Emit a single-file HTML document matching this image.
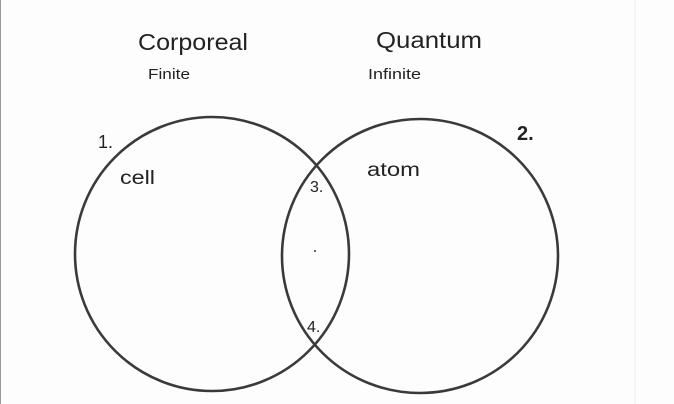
<!DOCTYPE html>
<html><head><style>
body{margin:0;background:#fff;}
svg{display:block}
text{font-family:"Liberation Sans",sans-serif;fill:#222}
</style></head><body>
<svg width="674" height="404" viewBox="0 0 674 404">
<rect width="674" height="404" fill="#fdfdfd"/>
<line x1="0.5" y1="0" x2="0.5" y2="404" stroke="#999" stroke-width="1"/>
<line x1="635" y1="0" x2="635" y2="404" stroke="#ececec" stroke-width="1"/>
<ellipse cx="212" cy="254" rx="137" ry="137" fill="none" stroke="#3a3a3a" stroke-width="2.6"/>
<ellipse cx="420" cy="256" rx="138" ry="137" fill="none" stroke="#3a3a3a" stroke-width="2.6"/>
<text x="138" y="50" font-size="23" textLength="110" lengthAdjust="spacingAndGlyphs">Corporeal</text>
<text x="376" y="48" font-size="23" textLength="106" lengthAdjust="spacingAndGlyphs">Quantum</text>
<text x="148" y="79" font-size="15" textLength="42" lengthAdjust="spacingAndGlyphs">Finite</text>
<text x="368" y="79" font-size="15" textLength="53" lengthAdjust="spacingAndGlyphs">Infinite</text>
<text x="120" y="184" font-size="19" textLength="35" lengthAdjust="spacingAndGlyphs">cell</text>
<text x="367" y="176" font-size="19" textLength="53" lengthAdjust="spacingAndGlyphs">atom</text>
<text x="98" y="148" font-size="18">1.</text>
<text x="517" y="140" font-size="20" font-weight="bold">2.</text>
<text x="310" y="192" font-size="16">3.</text>
<text x="307" y="332" font-size="16">4.</text>
<circle cx="315" cy="251" r="1" fill="#333"/>
</svg>
</body></html>
